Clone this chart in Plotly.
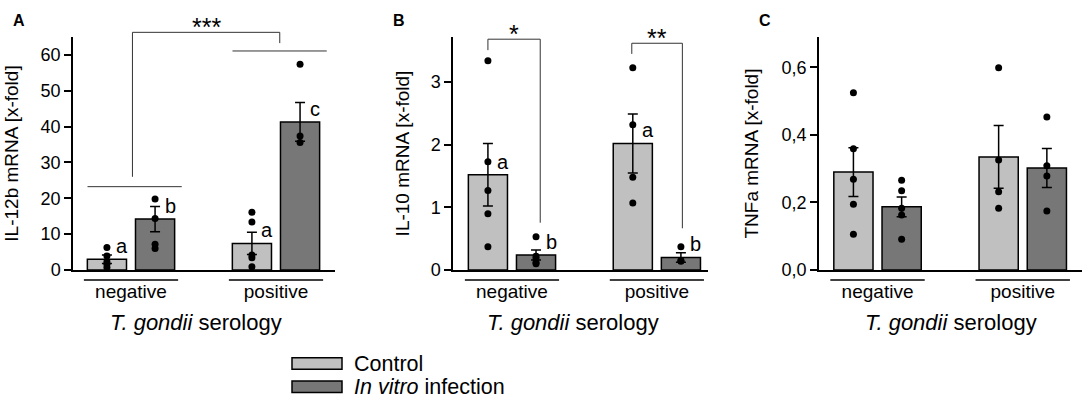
import plotly.graph_objects as go

# serology groups on the x axis
groups = ["negative", "positive"]
group_pos = [0, 1]

# panel A: IL-12b mRNA [x-fold]
il12_ctrl_mean = [3.0, 7.4]
il12_ctrl_sem = [1.2, 3.1]
il12_inf_mean = [14.2, 41.3]
il12_inf_sem = [3.5, 5.4]
il12_ctrl_pts = [[6.3, 3.9, 2.3, 1.6, 0.7], [16.1, 13.4, 4.2, 3.4, 0.9]]
il12_inf_pts = [[19.8, 14.4, 7.2, 6.0], [57.4, 37.4, 35.6]]
il12_ctrl_letters = ["a", "a"]
il12_inf_letters = ["b", "c"]

# panel B: IL-10 mRNA [x-fold]
il10_ctrl_mean = [1.52, 2.02]
il10_ctrl_sem = [0.50, 0.47]
il10_inf_mean = [0.24, 0.20]
il10_inf_sem = [0.08, 0.075]
il10_ctrl_pts = [[3.34, 1.73, 1.27, 0.90, 0.37], [3.23, 2.32, 1.48, 1.07]]
il10_inf_pts = [[0.53, 0.22, 0.18, 0.12, 0.10], [0.37, 0.15, 0.14]]
il10_ctrl_letters = ["a", "a"]
il10_inf_letters = ["b", "b"]

# panel C: TNFa mRNA [x-fold]
tnf_ctrl_mean = [0.290, 0.335]
tnf_ctrl_sem = [0.072, 0.093]
tnf_inf_mean = [0.187, 0.302]
tnf_inf_sem = [0.029, 0.058]
tnf_ctrl_pts = [[0.525, 0.359, 0.269, 0.195, 0.106], [0.599, 0.326, 0.232, 0.183]]
tnf_inf_pts = [[0.266, 0.235, 0.183, 0.163, 0.091], [0.453, 0.309, 0.278, 0.175]]

# significance brackets: x0, x1, top, left foot, right foot, label
il12_brackets = [(0.01, 1.026, 66.3, 26.0, 63.3, "***")]
il12_group_lines = [(-0.30, 0.35, 23.25), (0.70, 1.35, 61.1)]
il10_brackets = [(-0.166, 0.195, 3.685, 3.51, 0.755, "*"),
                 (0.827, 1.176, 3.62, 3.45, 0.666, "**")]

FONT = "Arial, Liberation Sans, Helvetica, sans-serif"
CTRL_COLOR = "#c0c0c0"
INF_COLOR = "#777777"
OFF = 0.166
BAR_W = 0.27

panels = [
    dict(name="A", ytitle="IL-12b mRNA [x-fold]", yrange=[0, 65], tickvals=[0, 10, 20, 30, 40, 50, 60],
         fmt="d", xrange=[-0.40, 1.407], dom=[73, 335],
         ctrl=(il12_ctrl_mean, il12_ctrl_sem, il12_ctrl_pts, il12_ctrl_letters),
         inf=(il12_inf_mean, il12_inf_sem, il12_inf_pts, il12_inf_letters),
         brackets=il12_brackets, lines=il12_group_lines, title_x=0.445, standoff=17),
    dict(name="B", ytitle="IL-10 mRNA [x-fold]", yrange=[0, 3.72], tickvals=[0, 1, 2, 3],
         fmt="d", xrange=[-0.407, 1.353], dom=[453, 708],
         ctrl=(il10_ctrl_mean, il10_ctrl_sem, il10_ctrl_pts, il10_ctrl_letters),
         inf=(il10_inf_mean, il10_inf_sem, il10_inf_pts, il10_inf_letters),
         brackets=il10_brackets, lines=[], title_x=0.422, standoff=16),
    dict(name="C", ytitle="TNFa mRNA [x-fold]", yrange=[0, 0.69], tickvals=[0, 0.2, 0.4, 0.6],
         fmt=".1f", xrange=[-0.403, 1.408], dom=[819, 1082],
         ctrl=(tnf_ctrl_mean, tnf_ctrl_sem, tnf_ctrl_pts, None),
         inf=(tnf_inf_mean, tnf_inf_sem, tnf_inf_pts, None),
         brackets=[], lines=[], title_x=0.505, standoff=18),
]

W, H = 1084, 400
YDOM = [1 - 270 / H, 1 - 37 / H]
DOM_PX = 233

fig = go.Figure()
shapes = []
annotations = []

for i, p in enumerate(panels):
    n = "" if i == 0 else str(i + 1)
    xa, ya = "x" + n, "y" + n
    ymax = p["yrange"][1]
    for (mean, sem, pts, letters), off, color in [(p["ctrl"], -OFF, CTRL_COLOR), (p["inf"], OFF, INF_COLOR)]:
        xs = [g + off for g in group_pos]
        fig.add_trace(go.Bar(
            x=xs, y=mean, width=BAR_W, xaxis=xa, yaxis=ya,
            marker=dict(color=color, line=dict(color="black", width=1.5)),
            error_y=dict(type="data", array=sem, visible=True, color="black", thickness=1.5, width=5),
            showlegend=False,
        ))
        px, py = [], []
        for x, vals in zip(xs, pts):
            px += [x] * len(vals)
            py += vals
        fig.add_trace(go.Scatter(
            x=px, y=py, mode="markers", xaxis=xa, yaxis=ya, cliponaxis=False,
            marker=dict(color="black", size=7), showlegend=False,
        ))
        if letters:
            for x, m, t in zip(xs, mean, letters):
                annotations.append(dict(x=x, y=m, xref=xa, yref=ya, text=t, showarrow=False,
                                        xshift=15, yshift=13, font=dict(size=20, family=FONT, color="black")))

    # group underlines below the axis
    for g in group_pos:
        shapes.append(dict(type="line", xref=xa, yref=ya + " domain", x0=g - 0.325, x1=g + 0.325,
                           y0=-10 / DOM_PX, y1=-10 / DOM_PX, line=dict(color="black", width=1.5)))
    # lines over groups (panel A)
    for x0, x1, yv in p["lines"]:
        shapes.append(dict(type="line", xref=xa, yref=ya + " domain", x0=x0, x1=x1,
                           y0=yv / ymax, y1=yv / ymax, line=dict(color="#333333", width=1)))
    # significance brackets
    for x0, x1, top, lf, rf, lab in p["brackets"]:
        shapes.append(dict(type="path", xref=xa, yref=ya + " domain",
                           path=f"M {x0},{lf / ymax} L {x0},{top / ymax} L {x1},{top / ymax} L {x1},{rf / ymax}",
                           line=dict(color="#333333", width=1)))
        annotations.append(dict(x=(x0 + x1) / 2, y=top / ymax, xref=xa, yref=ya + " domain", text=lab,
                                showarrow=False, yanchor="bottom", yshift=-11,
                                font=dict(size=25, family=FONT, color="black")))

    # x axis title and panel letter
    annotations.append(dict(x=p["title_x"], y=0, xref=xa, yref=ya + " domain", yanchor="middle",
                            yshift=-52, text="<i>T. gondii</i> serology", showarrow=False,
                            font=dict(size=22, family=FONT, color="black")))
    annotations.append(dict(x=(p["dom"][0] - 54) / W, y=1 - 20 / H, xref="paper", yref="paper",
                            xanchor="center", yanchor="middle",
                            text="<b>" + p["name"] + "</b>", showarrow=False,
                            font=dict(size=16, family=FONT, color="black")))

    dom = [p["dom"][0] / W, p["dom"][1] / W]
    fig.update_layout(**{
        "xaxis" + n: dict(domain=dom, range=p["xrange"], anchor=ya, showline=True, linecolor="black",
                          linewidth=1.5, tickvals=group_pos, ticktext=groups, ticks="",
                          ticklabelstandoff=3, showgrid=False, zeroline=False, automargin=False,
                          tickfont=dict(size=19, family=FONT, color="black"), fixedrange=True),
        "yaxis" + n: dict(domain=YDOM, range=p["yrange"], anchor=xa, showline=True, linecolor="black",
                          linewidth=1.5, tickvals=p["tickvals"], tickformat=p["fmt"], ticks="outside",
                          ticklen=7, tickwidth=1.5, tickcolor="black", showgrid=False, zeroline=False,
                          automargin=False, tickfont=dict(size=18, family=FONT, color="black"),
                          title=dict(text=p["ytitle"], standoff=p["standoff"],
                                     font=dict(size=19, family=FONT, color="black"))),
    })

# legend drawn by hand
legend_items = ["Control", "<i>In vitro</i> infection"]
legend_colors = [CTRL_COLOR, INF_COLOR]
for k, (lab, col) in enumerate(zip(legend_items, legend_colors)):
    top = 357.7 + k * 23.3
    shapes.append(dict(type="rect", xref="paper", yref="paper", x0=292 / W, x1=342 / W,
                       y0=1 - (top + 11.6) / H, y1=1 - top / H, fillcolor=col,
                       line=dict(color="black", width=1.5)))
    annotations.append(dict(x=352 / W, y=1 - (top + 5.8) / H, xref="paper", yref="paper", text=lab,
                            xanchor="left", yanchor="middle", showarrow=False,
                            font=dict(size=21.5, family=FONT, color="black")))

fig.update_layout(
    width=W, height=H, margin=dict(l=0, r=0, t=0, b=0, pad=0),
    plot_bgcolor="white", paper_bgcolor="white",
    separators=",.", barmode="overlay", showlegend=False,
    shapes=shapes, annotations=annotations,
    font=dict(family=FONT, color="black"),
)

# the page's default body margin would shift the figure by 8px
fig.write_html("out.html", config={"displayModeBar": False},
               post_script="document.body.style.margin='0';")
